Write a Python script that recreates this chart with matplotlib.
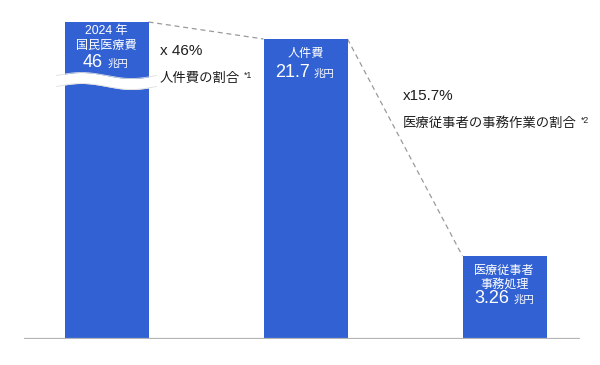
import numpy as np
import matplotlib
matplotlib.use("Agg")
import matplotlib.pyplot as plt

plt.rcParams['font.family'] = ['Liberation Sans', 'Noto Sans CJK JP', 'DejaVu Sans']
JP = ['Noto Sans CJK JP', 'DejaVu Sans']

# ---- data ----
categories = ["2024 年\n国民医療費", "人件費", "医療従事者\n事務処理"]
values = [46, 21.7, 3.26]                 # 兆円 (labels)
bar_heights = [22.93, 21.7, 6.0]          # drawn heights (bar 1 is broken)
value_labels = ["46", "21.7", "3.26"]
unit = "兆円"
ratio_labels = ["x 46%", "x15.7%"]
ratio_notes = ["人件費の割合", "医療従事者の事務作業の割合"]
note_marks = ["*1", "*2"]

BLUE = "#3161D3"
W, H = 600, 365
fig = plt.figure(figsize=(W / 100, H / 100), dpi=100)
ax = fig.add_axes([24 / W, (H - 339) / H, (580 - 24) / W, 339 / H])
px_per_unit_x = 199.0
x0_px = 106.5
ax.set_xlim((24 - x0_px) / px_per_unit_x, (580 - x0_px) / px_per_unit_x)
px_per_unit_y = 300 / 21.7
ax.set_ylim(0, 339 / px_per_unit_y)
ax.axis("off")

xs = np.arange(len(categories))
bw = 84 / px_per_unit_x
ax.bar(xs, bar_heights, width=bw, color=BLUE, zorder=2)
ax.axhline(0, color="#b4b4b4", lw=1.6, zorder=3)

for i in range(len(xs) - 1):
    ax.plot([xs[i] + bw / 2, xs[i + 1] - bw / 2],
            [bar_heights[i], bar_heights[i + 1]],
            color="#9a9a9a", lw=0.9, dashes=(4, 3), zorder=1)

# wave break on first bar
wx = np.linspace(xs[0] - 50 / px_per_unit_x, xs[0] + 50 / px_per_unit_x, 200)
phase = (wx - wx[0]) / (wx[-1] - wx[0])
center = (339 - 81) / px_per_unit_y + (3 / px_per_unit_y) * np.sin(2 * np.pi * phase)
half = 5.5 / px_per_unit_y
ax.fill_between(wx, center - half, center + half, color="white", zorder=4, lw=0)
ax.plot(wx, center + half, color="#dedede", lw=0.6, zorder=4)
ax.plot(wx, center - half, color="#dedede", lw=0.6, zorder=4)

def P(x, y):
    return x / W, 1 - y / H

renderer = fig.canvas.get_renderer()

def value_line(cx, base_y, val, size_big, size_small, gap=4):
    t1 = fig.text(*P(0, base_y), val, color="white", fontsize=size_big,
                  ha="left", va="baseline")
    t2 = fig.text(*P(0, base_y), unit, color="white", fontsize=size_small,
                  ha="left", va="baseline", family=JP)
    w1 = t1.get_window_extent(renderer).width
    w2 = t2.get_window_extent(renderer).width
    start = cx - (w1 + gap + w2) / 2
    t1.set_x(start / W)
    t2.set_x((start + w1 + gap) / W)

def label(cx, y, s, size=8.7, fam=None):
    kw = {"family": fam} if fam else {}
    fig.text(*P(cx, y), s, color="white", fontsize=size, ha="center", va="center", **kw)

c1 = x0_px
c2 = x0_px + px_per_unit_x
c3 = x0_px + 2 * px_per_unit_x

label(c1, 31, "2024 年", 8.8)
label(c1, 46, "国民医療費", 8.7, JP)
value_line(c1 - 1, 67, value_labels[0], 13, 7.5)

label(c2, 54, "人件費", 8.7, JP)
value_line(c2 - 1, 77, value_labels[1], 13, 7.5)

label(c3, 270, "医療従事者", 8.7, JP)
label(c3, 284, "事務処理", 8.7, JP)
value_line(c3, 303, value_labels[2], 13, 7.5)

ann = [(160, 55, 82), (403, 100, 127)]
for (x, y1, y2), r, n, m in zip(ann, ratio_labels, ratio_notes, note_marks):
    fig.text(*P(x, y1), r, color="#1e1e1e", fontsize=11, ha="left", va="baseline")
    t = fig.text(*P(x, y2), n, color="#1e1e1e", fontsize=9.6, ha="left",
                 va="baseline", family=JP)
    bb = t.get_window_extent(renderer)
    fig.text((bb.x1 + 4) / W, 1 - (y2 - 4) / H, m, color="#1e1e1e", fontsize=6.3,
             ha="left", va="baseline")

fig.savefig("out.png", dpi=100)
